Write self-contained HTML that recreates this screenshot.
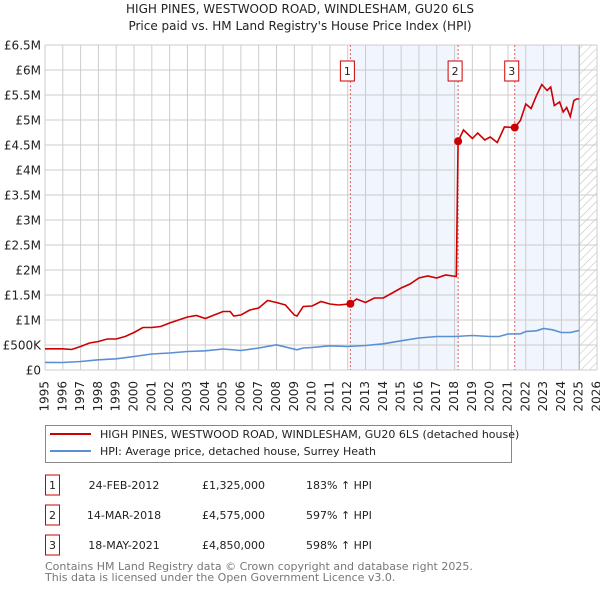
<!DOCTYPE html>
<html><head><meta charset="utf-8"><style>
body{margin:0;background:#fff;font-family:"Liberation Sans","DejaVu Sans",sans-serif;}
#wrap{position:relative;width:600px;height:590px;overflow:hidden;}
svg text{font-family:"DejaVu Sans","Liberation Sans",sans-serif;}
</style></head><body><div id="wrap">
<svg id="chart" width="600" height="590"></svg>
</div>
<script>
const redYears=[1995,1996,1996.5,1997,1997.5,1998,1998.5,1999,1999.5,2000,2000.5,2001,2001.5,2002,2002.5,2003,2003.5,2004,2004.5,2005,2005.4,2005.6,2006,2006.5,2007,2007.5,2008,2008.5,2009,2009.15,2009.5,2010,2010.5,2011,2011.5,2012.15,2012.5,2013,2013.5,2014,2014.5,2015,2015.5,2016,2016.5,2017,2017.5,2018.1,2018.2,2018.5,2019,2019.3,2019.7,2020,2020.4,2020.8,2021.38,2021.7,2022,2022.3,2022.6,2022.9,2023.2,2023.4,2023.6,2023.9,2024.1,2024.3,2024.5,2024.7,2024.85,2025];
const redValues=[0.425,0.425,0.41,0.47,0.54,0.57,0.62,0.62,0.67,0.75,0.85,0.85,0.87,0.94,1.0,1.06,1.09,1.03,1.10,1.17,1.17,1.08,1.10,1.2,1.24,1.39,1.35,1.30,1.10,1.08,1.27,1.28,1.37,1.32,1.30,1.325,1.42,1.35,1.44,1.44,1.54,1.64,1.72,1.84,1.88,1.84,1.90,1.87,4.575,4.8,4.63,4.74,4.6,4.66,4.55,4.86,4.85,4.99,5.32,5.23,5.49,5.71,5.59,5.66,5.29,5.36,5.16,5.25,5.07,5.39,5.42,5.42];
const hpiYears=[1995,1996,1997,1998,1999,2000,2001,2002,2003,2004,2005,2006,2007,2008,2009.15,2009.5,2010,2011,2012,2013,2014,2015,2016,2017,2018,2019,2020,2020.5,2021,2021.7,2022,2022.6,2023,2023.5,2024,2024.5,2025];
const hpiValues=[0.153,0.15,0.17,0.205,0.225,0.27,0.32,0.34,0.37,0.385,0.42,0.39,0.44,0.505,0.405,0.44,0.45,0.485,0.47,0.49,0.525,0.585,0.64,0.67,0.67,0.69,0.67,0.67,0.72,0.725,0.77,0.785,0.83,0.805,0.75,0.75,0.79];
const saleYears=[2012.15,2018.2,2021.38];
const saleValues=[1.325,4.575,4.85];
const saleLabels=["1","2","3"];
const yTicks=[0,0.5,1,1.5,2,2.5,3,3.5,4,4.5,5,5.5,6,6.5];
const yTickLabels=["£0","£500K","£1M","£1.5M","£2M","£2.5M","£3M","£3.5M","£4M","£4.5M","£5M","£5.5M","£6M","£6.5M"];
const xTicks=[];for(let y=1995;y<=2026;y++)xTicks.push(y);

const L=45,R=597,T=45,B=370,X0=1995,X1=2026,YMAX=6.5;
const xs=v=>L+(v-X0)/(X1-X0)*(R-L);
const ys=v=>B-v/YMAX*(B-T);
const svg=document.getElementById('chart');
const NS='http://www.w3.org/2000/svg';
function mk(tag,attrs,parent){const e=document.createElementNS(NS,tag);for(const k in attrs)e.setAttribute(k,attrs[k]);(parent||svg).appendChild(e);return e;}

// shading
let s=mk('rect',{x:xs(saleYears[0]),y:T,width:xs(saleYears[1])-xs(saleYears[0]),height:B-T,fill:'#eef3fc',opacity:0.8});


s=mk('rect',{x:xs(saleYears[2]),y:T,width:xs(2025)-xs(saleYears[2]),height:B-T,fill:'#eef3fc',opacity:0.8});


// hatch
const defs=mk('defs',{});
const pat=mk('pattern',{id:'hatch',width:6,height:6,patternUnits:'userSpaceOnUse',patternTransform:'rotate(45)'},defs);
mk('line',{x1:0,y1:0,x2:0,y2:6,stroke:'#bbb','stroke-width':1},pat);
s=mk('rect',{x:xs(2025),y:T,width:R-xs(2025),height:B-T,fill:'url(#hatch)'});



// grid
xTicks.forEach(t=>{const l=mk('line',{x1:xs(t),x2:xs(t),y1:T,y2:B,stroke:'#ccc','stroke-width':1});


const tx=mk('text',{x:0,y:0,'font-size':12,fill:'#222','text-anchor':'end','dominant-baseline':'middle',transform:`translate(${xs(t)},${B+11}) rotate(-90)`});tx.textContent=t;

});
yTicks.forEach((t,i)=>{const l=mk('line',{x1:L,x2:R,y1:ys(t),y2:ys(t),stroke:'#ccc','stroke-width':1});


const tx=mk('text',{x:L-4,y:ys(t)+4.5,'font-size':12,fill:'#222','text-anchor':'end'});tx.textContent=yTickLabels[i];

});
mk('line',{x1:xs(2025),x2:xs(2025),y1:T,y2:B,stroke:'#aab','stroke-width':1});

// sale vlines
saleYears.forEach((y,i)=>{const l=mk('line',{x1:xs(y),x2:xs(y),y1:T,y2:B,stroke:'#e06060','stroke-width':1,'stroke-dasharray':'2,2'});


const g=mk('g',{});


mk('rect',{x:xs(y)-10,y:61,width:14,height:20,fill:'#fff',stroke:'#c00','stroke-width':1},g);
const t=mk('text',{x:xs(y)-3,y:75,'font-size':11,fill:'#222','text-anchor':'middle'},g);t.textContent=saleLabels[i];});

// lines
function path(xa,va){return xa.map((x,i)=>(i?'L':'M')+xs(x).toFixed(1)+','+ys(va[i]).toFixed(1)).join('');}
let p=mk('path',{d:path(hpiYears,hpiValues),fill:'none',stroke:'#5b8fd4','stroke-width':1.6});


p=mk('path',{d:path(redYears,redValues),fill:'none',stroke:'#cc0000','stroke-width':1.6});


saleYears.forEach((y,i)=>{const c=mk('circle',{cx:xs(y),cy:ys(saleValues[i]),r:4,fill:'#cc0000'});

});

// titles
function txt(x,y,str,size,fill,anchor,name){const t=mk('text',{x:x,y:y,'font-size':size,fill:fill,'text-anchor':anchor||'start'});t.textContent=str;

return t;}
txt(300,13,"HIGH PINES, WESTWOOD ROAD, WINDLESHAM, GU20 6LS",12,'#222','middle','chart-title');
txt(300,30,"Price paid vs. HM Land Registry's House Price Index (HPI)",12,'#222','middle','chart-subtitle');

// legend
const lg=mk('rect',{x:45.5,y:425.5,width:466,height:37,fill:'#fff',stroke:'#888','stroke-width':1});


mk('line',{x1:50,x2:91,y1:434,y2:434,stroke:'#cc0000','stroke-width':2});
mk('line',{x1:50,x2:91,y1:451,y2:451,stroke:'#5b8fd4','stroke-width':2});
txt(100,438,"HIGH PINES, WESTWOOD ROAD, WINDLESHAM, GU20 6LS (detached house)",11,'#222','start','legend-entry-price');
txt(100,455,"HPI: Average price, detached house, Surrey Heath",11,'#222','start','legend-entry-hpi');

// table
const dates=["24-FEB-2012","14-MAR-2018","18-MAY-2021"];
const prices=["£1,325,000","£4,575,000","£4,850,000"];
const pcts=["183% ↑ HPI","597% ↑ HPI","598% ↑ HPI"];
[0,1,2].forEach(i=>{const cy=483+30*i;
const r=mk('rect',{x:45.5,y:cy-8,width:14,height:20,fill:'#fff',stroke:'#c00','stroke-width':1});


txt(52.5,cy+6,saleLabels[i],11,'#222','middle','table-row-number');
txt(124,cy+6,dates[i],11,'#222','middle','table-date');
txt(265,cy+6,prices[i],11,'#222','end','table-price');
txt(306,cy+6,pcts[i],11,'#222','start','table-hpi-change');});
txt(45,570,"Contains HM Land Registry data © Crown copyright and database right 2025.",11,'#777','start','footer-copyright');
txt(45,581,"This data is licensed under the Open Government Licence v3.0.",11,'#777','start','footer-licence');
</script></body></html>
